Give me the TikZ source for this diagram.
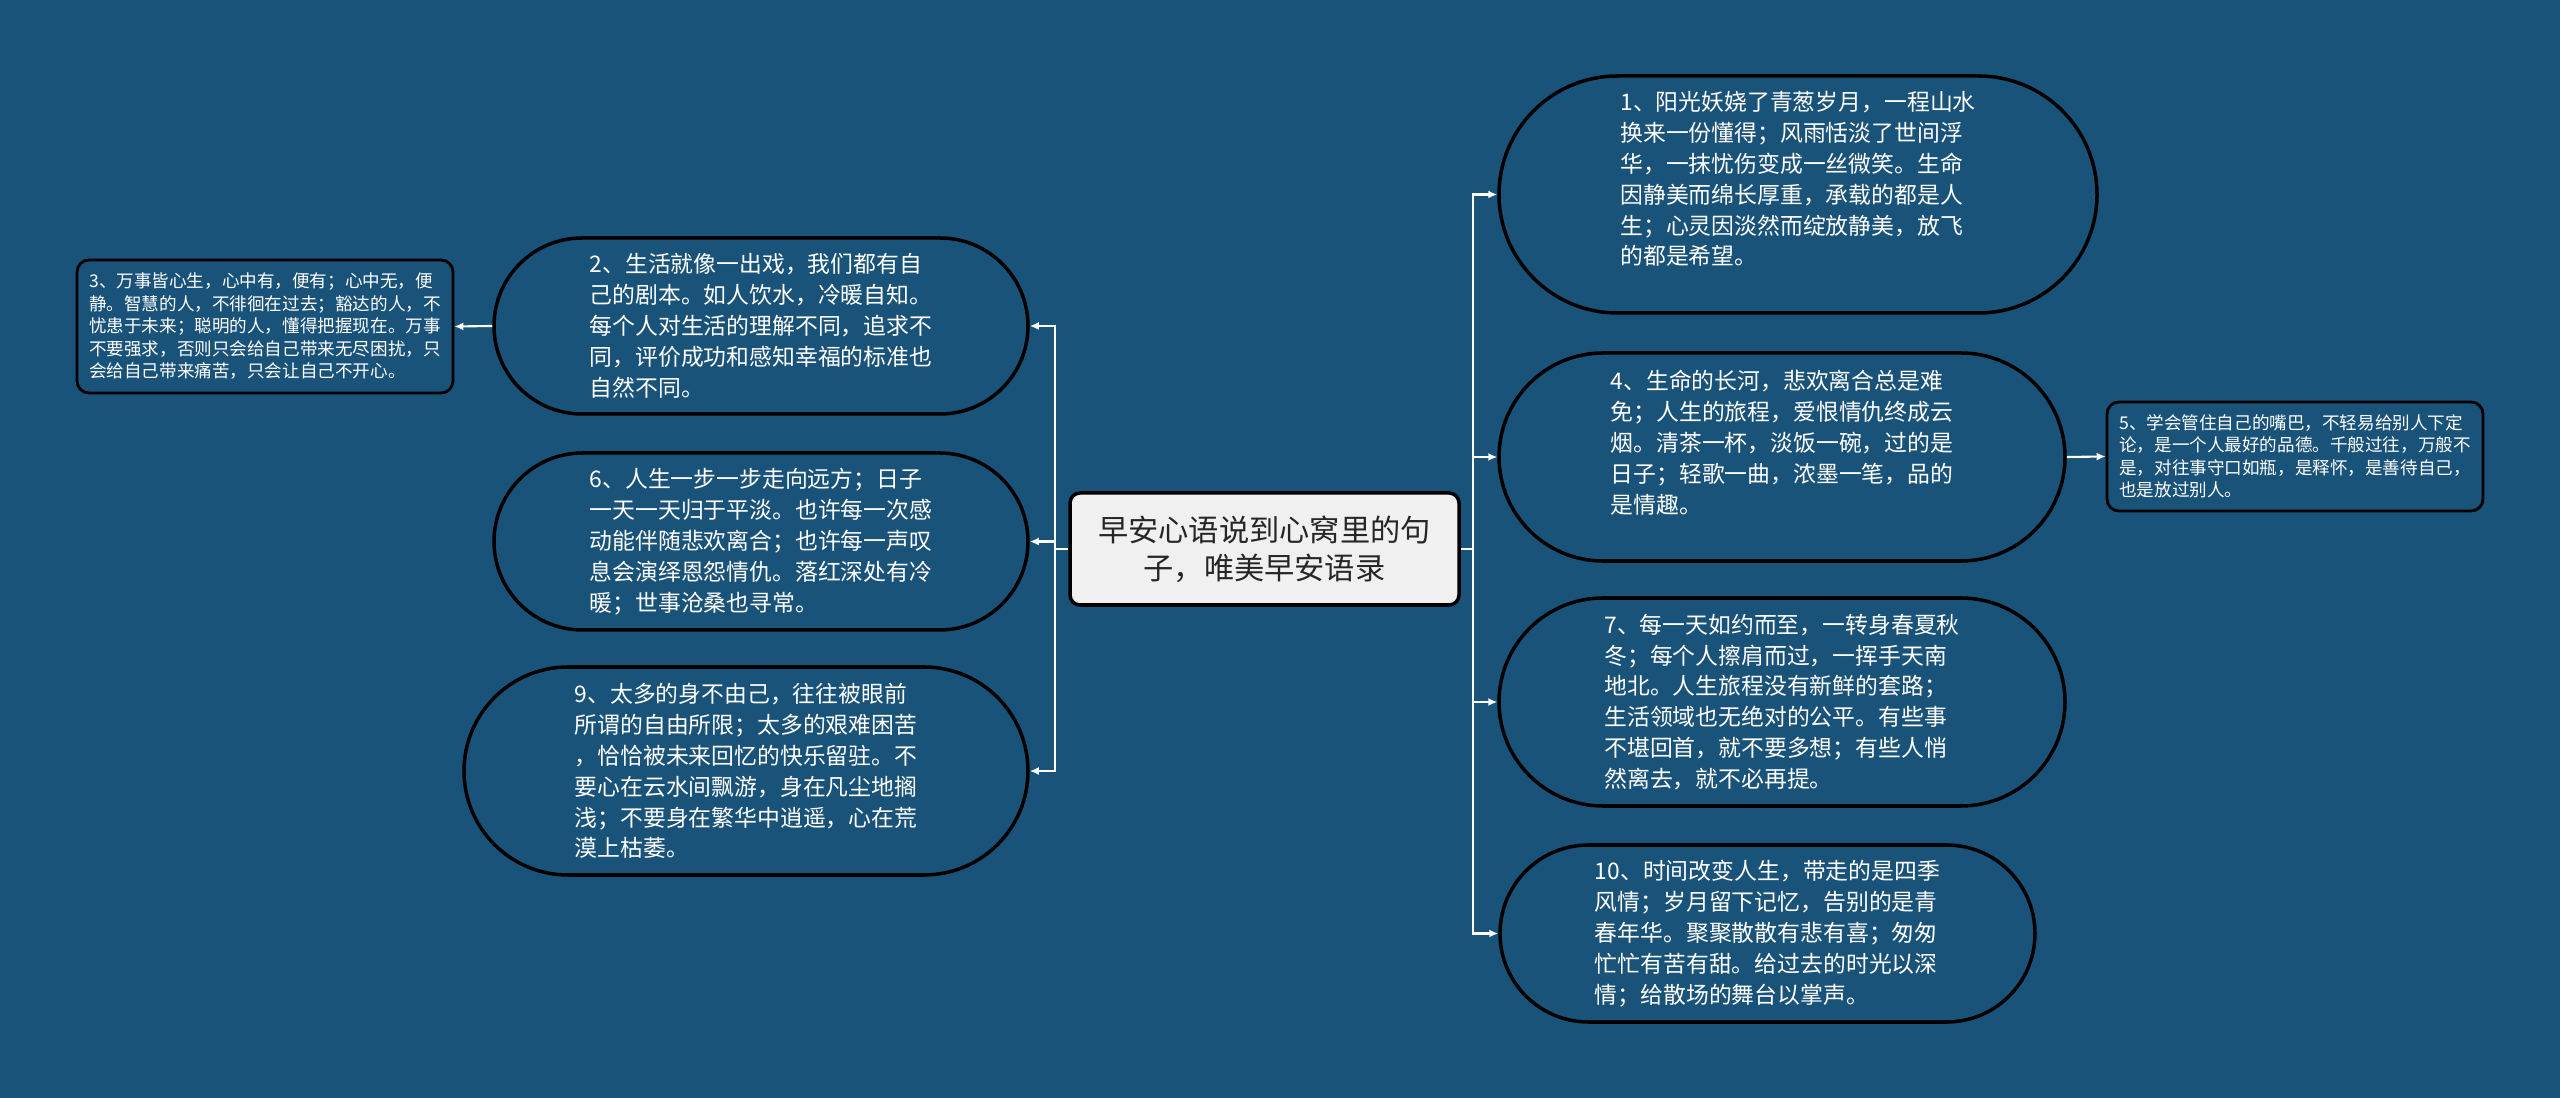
\documentclass[tikz,border=0pt]{standalone}
\usepackage{fontspec}
\setmainfont{Noto Sans CJK SC}
\usepackage{tikz}
\usetikzlibrary{arrows.meta}
\definecolor{mapblue}{HTML}{1A5379}
\definecolor{rootgray}{HTML}{F0F0F0}

\begin{document}
\begin{tikzpicture}[>={Latex[length=0.9mm,width=0.8mm]},
  wire/.style={draw=white,line width=0.6pt},
  quote/.style={draw=black,line width=1pt,fill=mapblue,text=white,align=left,inner sep=0pt,font=\fontsize{6.5pt}{8.8pt}\selectfont},
  note/.style={draw=black,line width=0.8pt,fill=mapblue,text=white,align=left,inner sep=0pt,rounded corners=0.12cm,minimum width=3.76cm,font=\fontsize{5pt}{6.4pt}\selectfont}]
\fill[mapblue] (0,0) rectangle (25.6,-10.98);
\node[draw=black,line width=1pt,fill=rootgray,text=black!85,rounded corners=0.1cm,align=center,minimum width=3.89cm,minimum height=1.12cm,inner sep=0pt,font=\fontsize{8.6pt}{10.8pt}\selectfont] (root) at (12.645,-5.49) {早安心语说到心窝里的句\\子，唯美早安语录};
\node[quote,minimum width=5.98cm,minimum height=2.37cm,rounded corners=1.185cm] (q1) at (17.98,-1.945) {1、阳光妖娆了青葱岁月，一程山水\\换来一份懂得；风雨恬淡了世间浮\\华，一抹忧伤变成一丝微笑。生命\\因静美而绵长厚重，承载的都是人\\生；心灵因淡然而绽放静美，放飞\\的都是希望。\rule[-0.33cm]{0pt}{0pt}};
\node[quote,minimum width=5.66cm,minimum height=2.08cm,rounded corners=1.04cm] (q4) at (17.82,-4.57) {4、生命的长河，悲欢离合总是难\\免；人生的旅程，爱恨情仇终成云\\烟。清茶一杯，淡饭一碗，过的是\\日子；轻歌一曲，浓墨一笔，品的\\是情趣。\rule[-0.3cm]{0pt}{0pt}};
\node[quote,minimum width=5.66cm,minimum height=2.08cm,rounded corners=1.04cm] (q7) at (17.82,-7.02) {7、每一天如约而至，一转身春夏秋\\冬；每个人擦肩而过，一挥手天南\\地北。人生旅程没有新鲜的套路；\\生活领域也无绝对的公平。有些事\\不堪回首，就不要多想；有些人悄\\然离去，就不必再提。};
\node[quote,minimum width=5.35cm,minimum height=1.77cm,rounded corners=0.885cm] (q10) at (17.675,-9.335) {10、时间改变人生，带走的是四季\\风情；岁月留下记忆，告别的是青\\春年华。聚聚散散有悲有喜；匆匆\\忙忙有苦有甜。给过去的时光以深\\情；给散场的舞台以掌声。};
\node[note,minimum height=1.09cm] (q5) at (22.95,-4.565) {5、学会管住自己的嘴巴，不轻易给别人下定\\论，是一个人最好的品德。千般过往，万般不\\是，对往事守口如瓶，是释怀，是善待自己，\\也是放过别人。};
\node[quote,minimum width=5.34cm,minimum height=1.76cm,rounded corners=0.88cm] (q2) at (7.61,-3.26) {2、生活就像一出戏，我们都有自\\己的剧本。如人饮水，冷暖自知。\\每个人对生活的理解不同，追求不\\同，评价成功和感知幸福的标准也\\自然不同。};
\node[quote,minimum width=5.34cm,minimum height=1.77cm,rounded corners=0.885cm] (q6) at (7.61,-5.415) {6、人生一步一步走向远方；日子\\一天一天归于平淡。也许每一次感\\动能伴随悲欢离合；也许每一声叹\\息会演绎恩怨情仇。落红深处有冷\\暖；世事沧桑也寻常。};
\node[quote,minimum width=5.64cm,minimum height=2.08cm,rounded corners=1.04cm] (q9) at (7.46,-7.71) {9、太多的身不由己，往往被眼前\\所谓的自由所限；太多的艰难困苦\\，恰恰被未来回忆的快乐留驻。不\\要心在云水间飘游，身在凡尘地搁\\浅；不要身在繁华中逍遥，心在荒\\漠上枯萎。};
\node[note,minimum height=1.33cm] (q3) at (2.65,-3.265) {3、万事皆心生，心中有，便有；心中无，便\\静。智慧的人，不徘徊在过去；豁达的人，不\\忧患于未来；聪明的人，懂得把握现在。万事\\不要强求，否则只会给自己带来无尽困扰，只\\会给自己带来痛苦，只会让自己不开心。};
\coordinate (rj) at (14.73,-5.49);
\coordinate (lj) at (10.55,-5.49);
\draw[wire] (root.east)--(rj);
\draw[wire] (root.west)--(lj);
\draw[wire,->] (rj) |- (q1.west);
\draw[wire,->] (rj) |- (q4.west);
\draw[wire,->] (rj) |- (q7.west);
\draw[wire,->] (rj) |- (q10.west);
\draw[wire,->] (lj) |- (q2.east);
\draw[wire,->] (lj) |- (q6.east);
\draw[wire,->] (lj) |- (q9.east);
\draw[wire,->] (q4.east)--(q5.west);
\draw[wire,->] (q2.west)--(q3.east);
\end{tikzpicture}
\end{document}
